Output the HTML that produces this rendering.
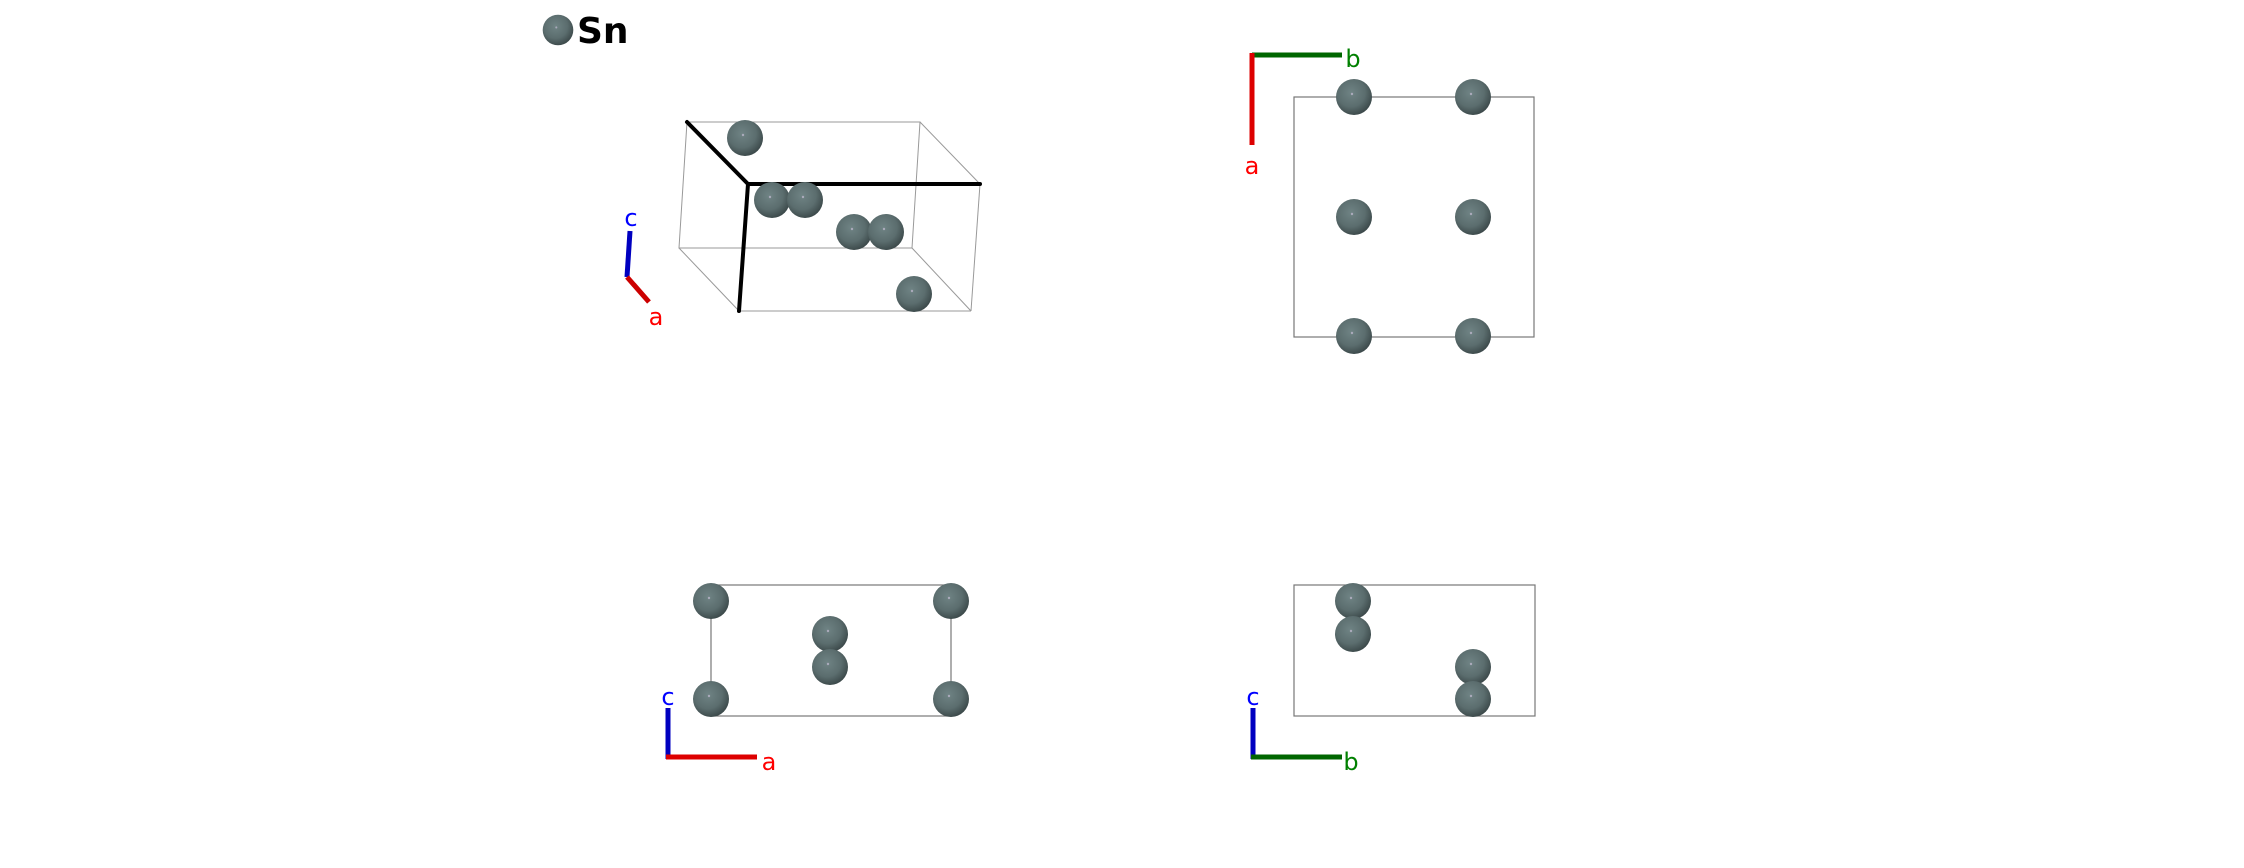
<!DOCTYPE html>
<html><head><meta charset="utf-8"><style>
html,body{margin:0;padding:0;background:#fff;width:2244px;height:868px;overflow:hidden}
svg{display:block}
text{font-family:"DejaVu Sans","Liberation Sans",sans-serif}
</style></head><body>
<svg width="2244" height="868" viewBox="0 0 2244 868" xmlns="http://www.w3.org/2000/svg">
<defs>
<radialGradient id="g" cx="0.42" cy="0.38" r="0.65">
<stop offset="0" stop-color="#6f8384"/>
<stop offset="0.6" stop-color="#5b6d6e"/>
<stop offset="1" stop-color="#3a4748"/>
</radialGradient>
<g id="at"><circle r="18" fill="url(#g)"/><circle cx="-2" cy="-3" r="1.2" fill="#aab"/></g>
</defs>
<!-- legend -->
<use href="#at" x="558" y="30" transform="translate(558 30) scale(0.85) translate(-558 -30)"/>
<text x="577" y="43" font-size="36" font-weight="bold" fill="#000">Sn</text>

<!-- 3D view -->
<g stroke="#999" stroke-width="1" fill="none">
<polyline points="687,122 920,122 912,248 679,248 687,122"/>
<line x1="920" y1="122" x2="980" y2="184"/>
<line x1="912" y1="248" x2="971" y2="311"/>
<line x1="679" y1="248" x2="739" y2="311"/>
<line x1="980" y1="184" x2="971" y2="311"/>
<line x1="739" y1="311" x2="971" y2="311"/>
</g>
<use href="#at" x="745" y="138"/>
<g stroke="#000" stroke-width="4" fill="none" stroke-linecap="round">
<line x1="687" y1="122" x2="748" y2="184"/>
<line x1="748" y1="184" x2="980" y2="184"/>
<line x1="748" y1="184" x2="739" y2="311"/>
</g>
<use href="#at" x="772" y="200"/>
<use href="#at" x="805" y="200"/>
<use href="#at" x="854" y="232"/>
<use href="#at" x="886" y="232"/>
<use href="#at" x="914" y="294"/>
<line x1="630" y1="231" x2="627" y2="277" stroke="#0000c0" stroke-width="5"/>
<line x1="627" y1="277" x2="649" y2="302" stroke="#cc0000" stroke-width="5"/>
<text x="631" y="226" font-size="24" fill="#0000ff" text-anchor="middle">c</text>
<text x="656" y="325" font-size="24" fill="#ff0000" text-anchor="middle">a</text>

<!-- top right view -->
<rect x="1294" y="97" width="240" height="240" fill="none" stroke="#777" stroke-width="1.2"/>
<use href="#at" x="1354" y="97"/><use href="#at" x="1473" y="97"/>
<use href="#at" x="1354" y="217"/><use href="#at" x="1473" y="217"/>
<use href="#at" x="1354" y="336"/><use href="#at" x="1473" y="336"/>
<line x1="1252" y1="55" x2="1342" y2="55" stroke="#006600" stroke-width="5"/>
<line x1="1252" y1="53" x2="1252" y2="145" stroke="#dd0000" stroke-width="5"/>
<text x="1353" y="67" font-size="24" fill="#008000" text-anchor="middle">b</text>
<text x="1252" y="174" font-size="24" fill="#ff0000" text-anchor="middle">a</text>

<!-- bottom left view -->
<rect x="711" y="585" width="240" height="131" fill="none" stroke="#777" stroke-width="1.2"/>
<use href="#at" x="711" y="601"/><use href="#at" x="951" y="601"/>
<use href="#at" x="830" y="634"/><use href="#at" x="830" y="667"/>
<use href="#at" x="711" y="699"/><use href="#at" x="951" y="699"/>
<line x1="668" y1="708" x2="668" y2="759" stroke="#0000c0" stroke-width="5"/>
<line x1="666" y1="757" x2="757" y2="757" stroke="#dd0000" stroke-width="5"/>
<text x="668" y="705" font-size="24" fill="#0000ff" text-anchor="middle">c</text>
<text x="769" y="770" font-size="24" fill="#ff0000" text-anchor="middle">a</text>

<!-- bottom right view -->
<rect x="1294" y="585" width="241" height="131" fill="none" stroke="#777" stroke-width="1.2"/>
<use href="#at" x="1353" y="601"/><use href="#at" x="1353" y="634"/>
<use href="#at" x="1473" y="667"/><use href="#at" x="1473" y="699"/>
<line x1="1253" y1="708" x2="1253" y2="759" stroke="#0000c0" stroke-width="5"/>
<line x1="1251" y1="757" x2="1342" y2="757" stroke="#006600" stroke-width="5"/>
<text x="1253" y="705" font-size="24" fill="#0000ff" text-anchor="middle">c</text>
<text x="1351" y="770" font-size="24" fill="#008000" text-anchor="middle">b</text>
</svg>
</body></html>
